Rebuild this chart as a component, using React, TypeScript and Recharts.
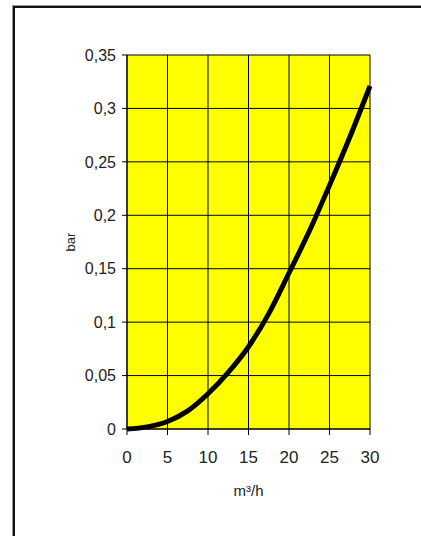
import React from 'react'
import { LineChart, Line, XAxis, YAxis, CartesianGrid } from 'recharts'

const flow = [0, 2.5, 5, 7.5, 10, 12.5, 15, 17.5, 20, 22.5, 25, 27.5, 30]
const pressure = [0, 0.002, 0.007, 0.017, 0.033, 0.053, 0.077, 0.108, 0.146, 0.185, 0.228, 0.273, 0.321]
const xTicks = [0, 5, 10, 15, 20, 25, 30]
const yTicks = [0, 0.05, 0.1, 0.15, 0.2, 0.25, 0.3, 0.35]

const data = flow.map((q, i) => ({ q, p: pressure[i] }))

const ink = '#222'
const fmtComma = (v: number) => String(v).replace('.', ',')

export default function App() {
  return (
    <div style={{ position: 'absolute', left: 0, top: 0, width: 421, height: 536, background: '#fff', overflow: 'hidden', fontFamily: '"Liberation Sans", Arial, sans-serif' }}>
      {/* frame */}
      <div
        style={{
          position: 'absolute', left: 13, top: 6, width: 440, height: 560,
          borderLeft: '2px solid #111', borderTop: '2px solid #111',
          boxShadow: '-1px -1px 0 #999',
        }}
      />
      <div style={{ position: 'absolute', left: 0, top: 0 }}>
        <LineChart width={421} height={536} data={data} margin={{ top: 55, right: 51, left: 0, bottom: 37 }}>
          <CartesianGrid stroke="#000" fill="#ffff00" fillOpacity={1} horizontalValues={yTicks} verticalValues={xTicks} />
          <XAxis
            dataKey="q"
            type="number"
            domain={[0, 30]}
            ticks={xTicks}
            height={70}
            tickSize={6}
            tickMargin={16}
            axisLine={{ stroke: '#000' }}
            tickLine={{ stroke: '#000' }}
            tick={{ fontSize: 17, fill: ink }}
            label={{ value: 'm³/h', position: 'insideBottom', offset: 3, fontSize: 15, fill: ink }}
          />
          <YAxis
            type="number"
            domain={[0, 0.35]}
            ticks={yTicks}
            width={127}
            tickSize={5}
            tickMargin={6}
            tickFormatter={fmtComma}
            axisLine={{ stroke: '#000' }}
            tickLine={{ stroke: '#000' }}
            tick={{ fontSize: 16, fill: ink }}
            label={{
              content: ({ viewBox }: any) => {
                const cx = viewBox.x + 70
                const cy = viewBox.y + viewBox.height / 2
                return (
                  <text x={cx} y={cy} transform={`rotate(-90 ${cx} ${cy})`} textAnchor="middle" dominantBaseline="central" fontSize={13} fill={ink}>
                    bar
                  </text>
                )
              },
            }}
          />
          <Line type="monotone" dataKey="p" stroke="#000" strokeWidth={5} dot={false} isAnimationActive={false} />
        </LineChart>
      </div>
    </div>
  )
}
